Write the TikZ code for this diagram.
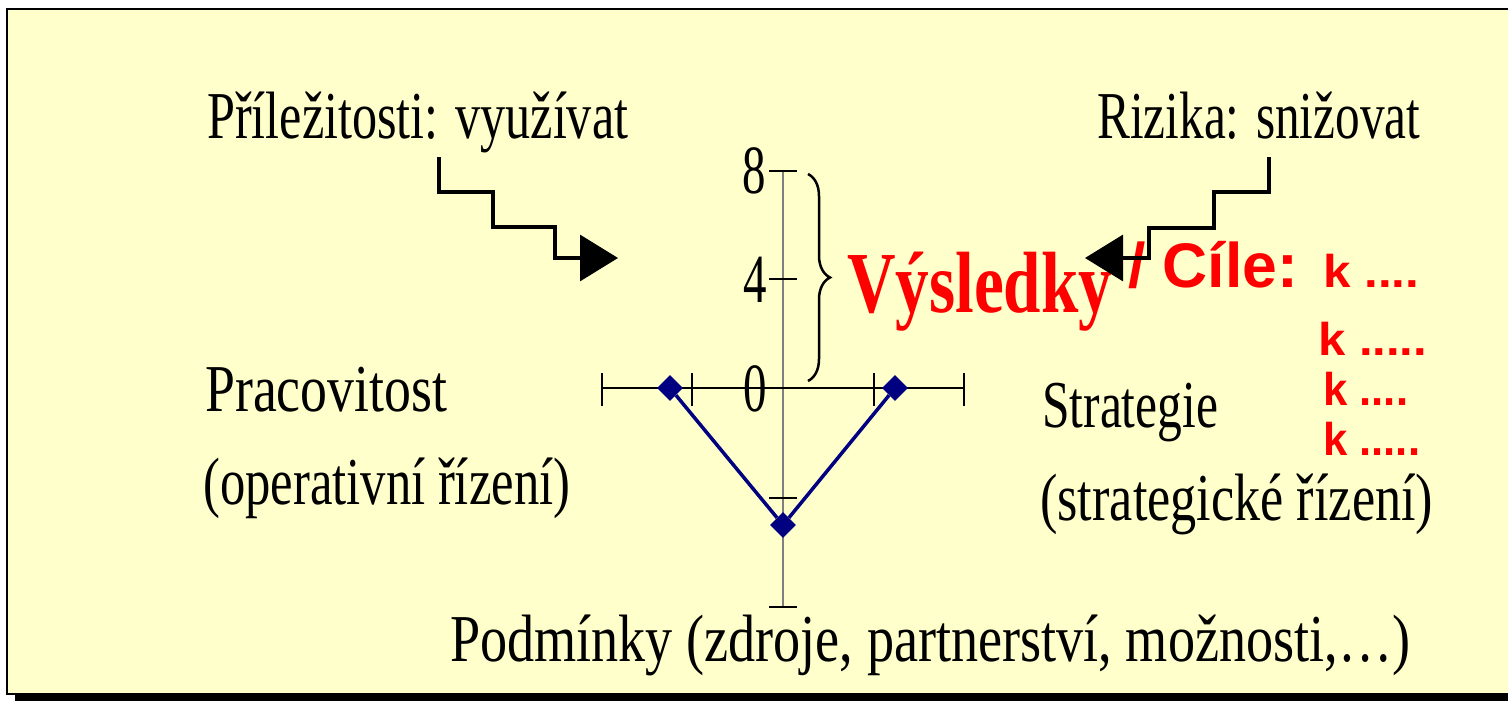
\documentclass[tikz,border=0pt]{standalone}
\usepackage{fontspec}
\setmainfont{Liberation Serif}
\newfontfamily\arialf{Liberation Sans}
\usetikzlibrary{arrows.meta,shapes.geometric,decorations.pathreplacing}
\definecolor{bgy}{HTML}{FFFFCC}
\definecolor{navyb}{HTML}{000080}
\definecolor{axgray}{HTML}{808080}
\newcommand{\fw}[2]{\resizebox{#1pt}{\height}{#2}}
\begin{document}
\begin{tikzpicture}[x=1pt,y=-1pt,
  rtxt/.style={inner sep=0pt, anchor=base west, font=\fontsize{67}{80}\selectfont},
  rnum/.style={inner sep=0pt, anchor=base east, font=\fontsize{69}{80}\selectfont},
  redbig/.style={inner sep=0pt, anchor=base west, text=red, font=\bfseries\fontsize{87}{100}\selectfont},
  redsans/.style={inner sep=0pt, anchor=base west, text=red, font=\arialf\bfseries\fontsize{63}{75}\selectfont},
  redk/.style={inner sep=0pt, anchor=base west, text=red, font=\arialf\bfseries\fontsize{46}{54}\selectfont},
  stair/.style={line width=3.2pt, -{Triangle[length=38pt,width=46pt]}},
  axtick/.style={line width=1.3pt},
  dmd/.style={diamond, fill=navyb, minimum size=26pt, inner sep=0pt}
]
\useasboundingbox (0,0) rectangle (1508,701);
\clip (0,0) rectangle (1508,701);
% frame with shadow
\fill[black] (15,17) rectangle (1530,720);
\draw[fill=bgy, line width=1.5pt] (7,9) rectangle (1530,694);
% axes
\draw[axgray, line width=2pt] (783,171) -- (783,607);
\foreach \yy in {171,279,498,607} \draw[axtick] (769,\yy) -- (797,\yy);
\draw[line width=1.5pt] (602,388) -- (964,388);
\foreach \xx in {602,692,874,964} \draw[axtick] (\xx,373) -- (\xx,406);
\node[rnum] (l8) at (766,193) {\scalebox{0.68}[1]{8}};
\node[rnum] (l4) at (767,302) {\scalebox{0.68}[1]{4}};
\node[rnum] (l0) at (767,411) {\scalebox{0.68}[1]{0}};
% data
\node[dmd] (d1) at (670,388) {};
\node[dmd] (d2) at (783,525) {};
\node[dmd] (d3) at (895,388) {};
\draw[navyb, line width=3.5pt] (d1) -- (d2) -- (d3);
% brace
\draw[line width=2.5pt, decorate, decoration={brace, amplitude=22pt}] (808,174) -- (808,381);
% texts
\node[rtxt] (pril) at (207,138) {\fw{421}{Příležitosti: využívat}};
\node[rtxt] (riz) at (1097,138) {\fw{323}{Rizika: snižovat}};
\node[rtxt] (prac) at (205,411) {\fw{242}{Pracovitost}};
\node[rtxt] (oper) at (203,504) {\fw{367}{(operativní řízení)}};
\node[rtxt] (strat) at (1042,427) {\fw{176}{Strategie}};
\node[rtxt] (strr) at (1040,520) {\fw{393}{(strategické řízení)}};
\node[rtxt] (podm) at (450,661) {\fw{960}{Podmínky (zdroje, partnerství, možnosti,…)}};
\node[redbig] (vys) at (847,312) {\fw{265}{Výsledky}};
\node[redsans] (cile) at (1128,287) {\fw{170}{/ Cíle:}};
\node[redk] (k1) at (1323,287) {\fw{96}{k ....}};
\node[redk] (k2) at (1318,355) {\fw{109}{k .....}};
\node[redk] (k3) at (1323,405) {\fw{85}{k ....}};
\node[redk] (k4) at (1323,455) {\fw{97}{k .....}};
% stair arrows
\coordinate (ls) at (439,157);
\coordinate (lt) at (618,258);
\coordinate (rs) at (1269,157);
\coordinate (rt) at (1085,258);
\draw[stair] (ls) |- (493,192) |- (555,227) |- (lt);
\draw[stair] (rs) |- (1214,192) |- (1149,228) |- (rt);
\end{tikzpicture}
\end{document}
